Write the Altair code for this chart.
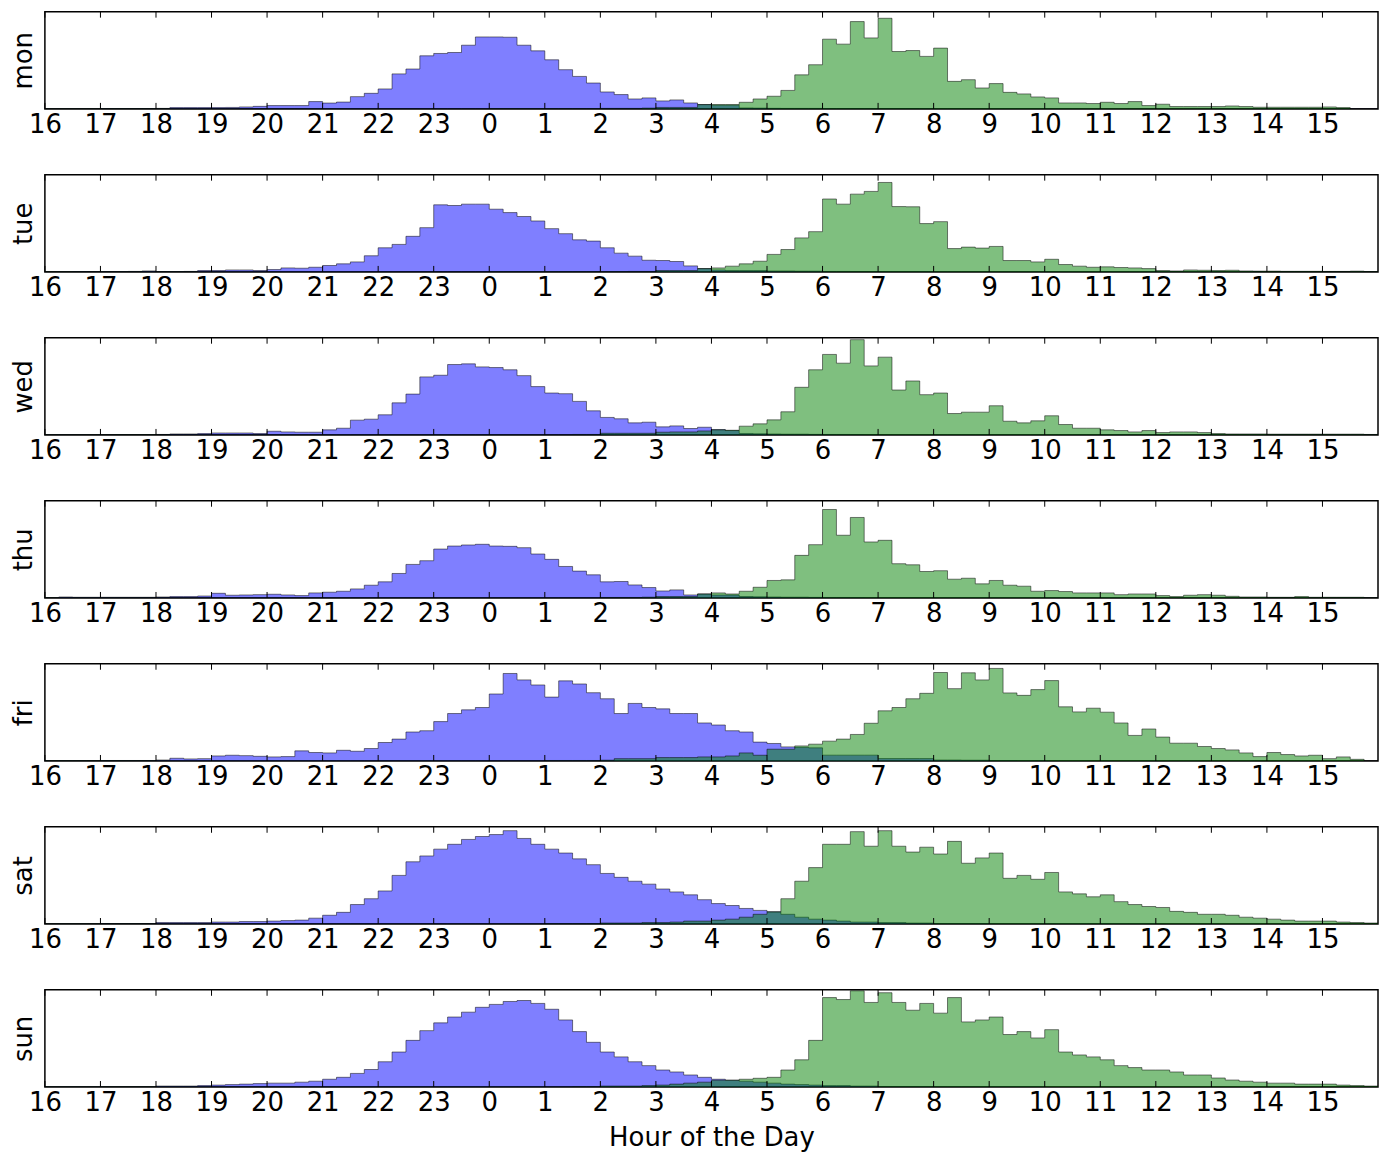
import altair as alt
import pandas as pd

DAYS = ["mon", "tue", "wed", "thu", "fri", "sat", "sun"]
START_HOUR = 16
BIN_HOURS = 0.25
TICK_HOURS = list(range(16, 40))
X_TITLE = "Hour of the Day"

# heights of each quarter-hour bin, as % of the panel height, from 16:00 to 15:45 next day
mon_bed = [0.2,0.2,0.2,0.2, 0.3,0.3,0.3,0.3, 0.5,1.3,1.3,1.3, 1.3,1.5,2.0,2.6,
           3.4,3.4,3.4,7.5, 6,7,12.6,16, 20.5,36,41,54.6, 57,58,65.5,74,
           74,73.7,65.5,59.7, 50.5,40.3,33.4,26.6, 17.4,14.7,10.2,11.3, 8.2,9.2,6.1,4.4,
           3.8,3.8,1.0,0.8, 0.6,0.5,0.5,0.5, 0.4,0.4,0.4,0.4, 0.3,0.3,0.3,0.3,
           0.2,0.2,0.2,0.2, 0.1,0.1,0.1,0.1, 0.1,0.1,0.1,0.1, 0.1,0.1,0.1,0.1,
           0.1,0.1,0.1,0.1, 0.1,0.1,0.1,0.1, 0.1,0.1,0.1,0.1, 0.1,0.1,0.1,0.1]
mon_wake = [0.1,0.1,0.1,0.1, 0.1,0.1,0.1,0.1, 0.1,0.1,0.1,0.1, 0.1,0.1,0.1,0.1,
            0.1,0.1,0.1,0.1, 0.1,0.1,0.1,0.1, 0.2,0.2,0.2,0.2, 0.2,0.2,0.2,0.2,
            0.3,0.3,0.3,0.3, 0.3,0.3,0.3,0.3, 0.5,0.5,0.5,0.8, 1.5,1.5,1.5,4.4,
            4.4,4.4,6.8,10.2, 13,19,35,45.4, 71.7,66.6,89.8,73, 93.2,59,60,54,
            62.5,28.3,30,21.5, 26,17,15.4,12.3, 11.3,6.1,6.1,5.5, 6.8,5.5,7.5,3.4,
            4.8,2.4,2.4,2.4, 2.4,3,2.4,1.7, 1.7,1.7,1.7,1.7, 2,1.3,0,0]

tue_bed = [0.2,0.2,0.3,0.3, 0.3,0.3,0.5,1.0, 0.3,0.3,0.5,1.4, 1.4,2,2,1.4,
           2.4,4.1,3.8,4.8, 6.6,8.3,10.3,16.6, 24.8,28.3,36.6,45.5, 69,68.3,69.7,69.7,
           64.5,61,57,52.4, 44.5,39.3,33,31.7, 24.8,19.3,16.2,12, 11.7,10.7,6.2,3.4,
           2,1.4,1.4,1.4, 1,1,0.8,0.8, 0.5,0.5,0.4,0.4, 0.3,0.3,0.3,0.3,
           0.1,0.1,0.1,0.1, 0.1,0.1,0.1,0.1, 0.1,0.1,0.1,0.1, 0.1,0.1,0.1,0.1,
           0.1,0.1,0.1,0.1, 0.1,0.1,0.1,0.1, 0.1,0.1,0.1,0.1, 0.1,0.1,0.1,0.1]
tue_wake = [0.1,0.1,0.1,0.1, 0.1,0.1,0.1,0.1, 0.1,0.1,0.1,0.1, 0.1,0.1,0.1,0.1,
            0.1,0.1,0.1,0.1, 0.1,0.1,0.1,0.1, 0.2,0.2,0.2,0.2, 0.2,0.2,0.2,0.2,
            0.3,0.3,0.3,0.3, 0.3,0.3,0.3,0.3, 0.3,0.3,0.5,0.5, 1.4,1.4,1.4,3.4,
            4.1,5.9,8.3,11, 18,23,35,41.4, 75,69.7,80,82.8, 92,67.2,67,49.7,
            51.7,24,25.5,24.5, 26.2,11.7,11.7,10.3, 13,7.6,5.9,4.8, 5.2,4.5,4.1,3.4,
            1.4,1,2,1.7, 1.4,1.7,1,0.8, 0.8,0.6,0.6,0.6, 0.5,0.5,0.8,0.3]

wed_bed = [0.1,0.1,0.2,0.2, 0.2,0.3,0.3,0.3, 0.5,1,1,1.4, 2,2,2,1.4,
           3.8,3.1,2.8,2.8, 5.2,6.9,15.2,16.2, 20.7,33,42,59.7, 61.4,72.4,73.1,70,
           69.3,67,61,49.7, 43.1,42.4,34.5,24.8, 18,16.6,12.4,13.1, 8.3,9.3,6.6,7.9,
           5.5,4.5,1.5,1.2, 1,0.8,0.8,0.6, 0.5,0.5,0.4,0.3, 0.2,0.2,0.2,0.2,
           0.1,0.1,0.1,0.1, 0.1,0.1,0.1,0.1, 0.1,0.1,0.1,0.1, 0.1,0.1,0.1,0.1,
           0.1,0.1,0.1,0.1, 0.1,0.1,0.1,0.1, 0.1,0.1,0.1,0.1, 0.1,0.1,0.1,0.1]
wed_wake = [0.2,0.2,0.2,0.2, 0.2,0.2,0.2,0.2, 0.2,0.2,0.2,0.2, 0.2,0.2,0.2,0.2,
            0.2,0.2,0.2,0.2, 0.2,0.2,0.2,0.2, 0.2,0.2,0.2,0.2, 0.2,0.2,0.2,0.2,
            0.2,0.2,0.2,0.2, 0.3,0.3,0.5,0.5, 1.7,1.7,1.7,1.7, 2.8,3.1,3.1,4.1,
            5.2,4.8,9,11.4, 15.5,23.8,49,67, 82.8,73.8,98,71, 80,46.2,55.5,41.4,
            43.1,22,23.4,23.4, 30,14.1,12.4,14.5, 19.7,10.7,6.9,6.9, 5.2,4.5,3.1,4.5,
            2.4,3.1,3.1,2.4, 1.4,1,1,1, 0.8,0.8,0.8,0.8, 0.8,0.8,0.8,0.5]

thu_bed = [0.2,1,0.7,0.7, 0.7,0.7,0.7,0.7, 1,1.4,1.4,2, 4.8,2.8,3.1,3.4,
           3.8,3.1,2.4,5.2, 5.9,6.9,9.3,13.1, 16.6,25.2,34.5,38.3, 50.3,53.4,54.5,55.2,
           53.4,53.1,51.7,45.2, 39.7,32.4,27.6,23.8, 16.6,16.9,13.4,10.7, 7.2,8.3,3.1,4.1,
           3,3,1.5,1.2, 1,0.8,0.8,0.6, 0.5,0.5,0.4,0.3, 0.2,0.2,0.2,0.2,
           0.1,0.1,0.1,0.1, 0.1,0.1,0.1,0.1, 0.1,0.1,0.1,0.1, 0.1,0.1,0.1,0.1,
           0.1,0.1,0.1,0.1, 0.1,0.1,0.1,0.1, 0.1,0.1,0.1,0.1, 0.1,0.1,0.1,0.1]
thu_wake = [0.2,0.2,0.2,0.2, 0.2,0.2,0.2,0.2, 0.2,0.2,0.2,0.2, 0.2,0.2,0.2,0.2,
            0.2,0.2,0.2,0.2, 0.2,0.2,0.2,0.2, 0.2,0.2,0.2,0.2, 0.2,0.2,0.2,0.2,
            0.2,0.2,0.2,0.2, 0.2,0.2,0.2,0.2, 0.5,0.5,0.5,0.8, 1.4,1.4,1.4,4.1,
            5.2,4.1,6.9,11, 18,18.6,43.8,54.8, 91,64.5,82.8,57.6, 59.3,35.2,34.1,27.2,
            28,19.3,20.3,14.5, 18,13.1,12.1,6.9, 7.6,6.6,5.2,5.2, 5.2,3.4,4.1,4.1,
            2.4,1.4,2.8,3.4, 2.8,1.7,1,1, 0.7,0.7,1.4,0.7, 0.7,0.7,0.7,0.3]

fri_bed = [0.3,0.3,0.3,0.3, 0.5,0.5,0.5,0.5, 1,2.8,2.1,2.4, 5.2,5.9,5.5,4.8,
           4.2,4.5,10.4,8.7, 8.3,11,10,12.8, 19,22.5,29.8,31.1, 40.5,48.8,52.6,55,
           68.9,90,83.4,78.2, 65.7,82.4,79.2,70.2, 64,48.8,59.2,55, 53.6,48.8,48.8,39.1,
           37,31.1,29.8,19.4, 18,14.5,14,13.5, 6,6,6,6, 2.5,2.5,2.5,2.5,
           1,1,0.8,0.8, 0.5,0.5,0.3,0.3, 0.1,0.1,0.1,0.1, 0.1,0.1,0.1,0.1,
           0.1,0.1,0.1,0.1, 0.1,0.1,0.1,0.1, 0.1,0.1,0.1,0.1, 0.1,0.1,0.1,0.1]
fri_wake = [0.2,0.2,0.2,0.2, 0.2,0.2,0.2,0.2, 0.2,0.2,0.2,0.2, 0.2,0.2,0.2,0.2,
            0.2,0.2,0.2,0.2, 0.2,0.2,0.2,0.2, 0.2,0.2,0.2,0.2, 0.2,0.2,0.2,0.2,
            0.3,0.3,0.3,0.3, 0.5,0.5,0.5,0.5, 0.8,2.4,2.4,2.4, 3.5,3.5,3.5,4.2,
            4.2,5.2,8.3,5.9, 12.1,12.1,15.5,17.3, 20.4,22.5,27.3,38.8, 51.6,55,64,69.6,
            91,74.4,90.7,83.4, 95.2,70,67.5,73.4, 82.7,55.7,50.5,54.3, 50.2,39.1,26.3,32.9,
            24.6,18.3,18.3,14.9, 12.8,11.4,8.3,4.5, 8.7,6.6,5.2,5.9, 2.4,4.2,1.7,0]

sat_bed = [0.3,0.3,0.3,0.3, 0.5,0.5,0.5,0.5, 1.5,1.5,1.5,1.5, 2,2,2.5,2.5,
           3,3.5,4,6, 9,12,20,26, 34,50,64,70, 77,82,87,90,
           92,96,88,82, 77,73,67,61, 52,48,44,41, 36,33,30,25,
           21,19,16,14, 12.5,10,7,5, 4,3,2,2, 1.5,1.5,1,1,
           0.5,0.5,0.5,0.5, 0.3,0.3,0.3,0.3, 0.2,0.2,0.2,0.2, 0.2,0.2,0.2,0.2,
           0.1,0.1,0.1,0.1, 0.1,0.1,0.1,0.1, 0.1,0.1,0.1,0.1, 0.1,0.1,0.1,0.1]
sat_wake = [0.3,0.3,0.3,0.3, 0.3,0.3,0.3,0.3, 0.3,0.3,0.3,0.3, 0.3,0.3,0.3,0.3,
            0.3,0.3,0.3,0.3, 0.3,0.3,0.3,0.3, 0.3,0.3,0.3,0.3, 0.3,0.3,0.3,0.3,
            0.3,0.3,0.3,0.3, 0.5,0.5,0.5,0.5, 1,1,1,1.5, 1.5,2,3,3,
            4,5,7,10, 12.5,26,44,58, 82,82,95,80, 96,80,74,79,
            72,85,62.5,68, 73,47,50,46, 53,33,31,28, 30,23,20,18,
            17,13,12,10, 10,9,7,6, 5,4,3,3, 3,2,1.5,1]

sun_bed = [0.2,0.2,0.2,0.2, 0.3,0.3,0.3,0.3, 1,1,1,1.5, 2,2.5,3,3.5,
           4,4,5,6, 8,10,14,18, 26,36,48,58, 66,72,77,82,
           85,88,89,86, 80,69,57,46, 36,31,26,22, 17.5,15.5,12.4,10,
           8,7,6,5, 4,3,2.5,2, 1.5,1.5,1,1, 0.5,0.5,0.5,0.5,
           0.3,0.3,0.3,0.3, 0.2,0.2,0.2,0.2, 0.1,0.1,0.1,0.1, 0.1,0.1,0.1,0.1,
           0.1,0.1,0.1,0.1, 0.1,0.1,0.1,0.1, 0.1,0.1,0.1,0.1, 0.1,0.1,0.1,0.1]
sun_wake = [0.2,0.2,0.2,0.2, 0.2,0.2,0.2,0.2, 0.2,0.2,0.2,0.2, 0.2,0.2,0.2,0.2,
            0.2,0.2,0.2,0.2, 0.2,0.2,0.2,0.2, 0.2,0.2,0.2,0.2, 0.2,0.2,0.2,0.2,
            0.2,0.2,0.2,0.2, 0.3,0.3,0.5,0.5, 1,1,1,1.5, 2,3,4,5,
            7,7,8,9, 10,17.5,28,48, 92,90,99,87, 97,87,79,86,
            76,92,67,69, 72,54,57,50.5, 59,36,33,31, 28,22,20,17.5,
            17.5,15.5,12.4,12.4, 9.3,7.2,6,5, 4,4,3,3, 3,2,1.5,1]

SERIES = {
    "mon": (mon_bed, mon_wake), "tue": (tue_bed, tue_wake), "wed": (wed_bed, wed_wake),
    "thu": (thu_bed, thu_wake), "fri": (fri_bed, fri_wake), "sat": (sat_bed, sat_wake),
    "sun": (sun_bed, sun_wake),
}

FONT = "DejaVu Sans"
FS = 26
W, H = 1337, 97.5
TICK_LEN = 6


def step_frame(values):
    n = len(values)
    hours = [START_HOUR + i * BIN_HOURS for i in range(n)] + [START_HOUR + n * BIN_HOURS]
    vals = list(values) + [values[-1]]
    return pd.DataFrame({"hour": hours, "value": vals})


ticks_df = pd.DataFrame({"hour": TICK_HOURS})


def panel(day, last):
    bed, wake = SERIES[day]
    x = alt.X(
        "hour:Q",
        scale=alt.Scale(domain=[16, 40], nice=False, zero=False),
        axis=alt.Axis(
            values=TICK_HOURS,
            labelExpr="'' + (datum.value % 24)",
            tickSize=0, domain=False, grid=False,
            labelFontSize=FS, labelFont=FONT, labelColor="black",
            labelPadding=3, labelFlush=False, labelOverlap=False,
            title=X_TITLE if last else None,
            titleFontSize=FS, titleFont=FONT, titleFontWeight="normal",
            titleColor="black", titlePadding=9,
        ),
    )
    y = alt.Y(
        "value:Q",
        scale=alt.Scale(domain=[0, 100], nice=False),
        axis=alt.Axis(
            title=day, labels=False, ticks=False, domain=False, grid=False,
            titleFontSize=FS, titleFont=FONT, titleFontWeight="normal",
            titleColor="black", titlePadding=8,
        ),
    )
    blue = alt.Chart(step_frame(bed)).mark_area(
        interpolate="step-after", fill="#0000ff", fillOpacity=0.5,
        stroke="black", strokeOpacity=0.5, strokeWidth=1, clip=True,
    ).encode(x=x, y=y)
    green = alt.Chart(step_frame(wake)).mark_area(
        interpolate="step-after", fill="#008000", fillOpacity=0.5,
        stroke="black", strokeOpacity=0.5, strokeWidth=1, clip=True,
    ).encode(x=x, y=y)
    top_ticks = alt.Chart(ticks_df).mark_rule(color="black", strokeWidth=1).encode(
        x=x, y=alt.value(0), y2=alt.value(TICK_LEN))
    bottom_ticks = alt.Chart(ticks_df).mark_rule(color="black", strokeWidth=1).encode(
        x=x, y=alt.value(H), y2=alt.value(H - TICK_LEN))
    return alt.layer(blue, green, top_ticks, bottom_ticks).properties(
        width=W, height=H,
        view=alt.ViewBackground(stroke="black", strokeWidth=1.5, fill="white"),
    )


chart = alt.vconcat(
    *[panel(d, i == len(DAYS) - 1) for i, d in enumerate(DAYS)], spacing=33.5
).properties(
    padding={"left": 2, "top": 0, "right": 0, "bottom": 2}
).configure_view(
    stroke="black", strokeWidth=1.5
).configure(background="white")

chart.save("out.html", embed_options={"renderer": "svg", "actions": False})
